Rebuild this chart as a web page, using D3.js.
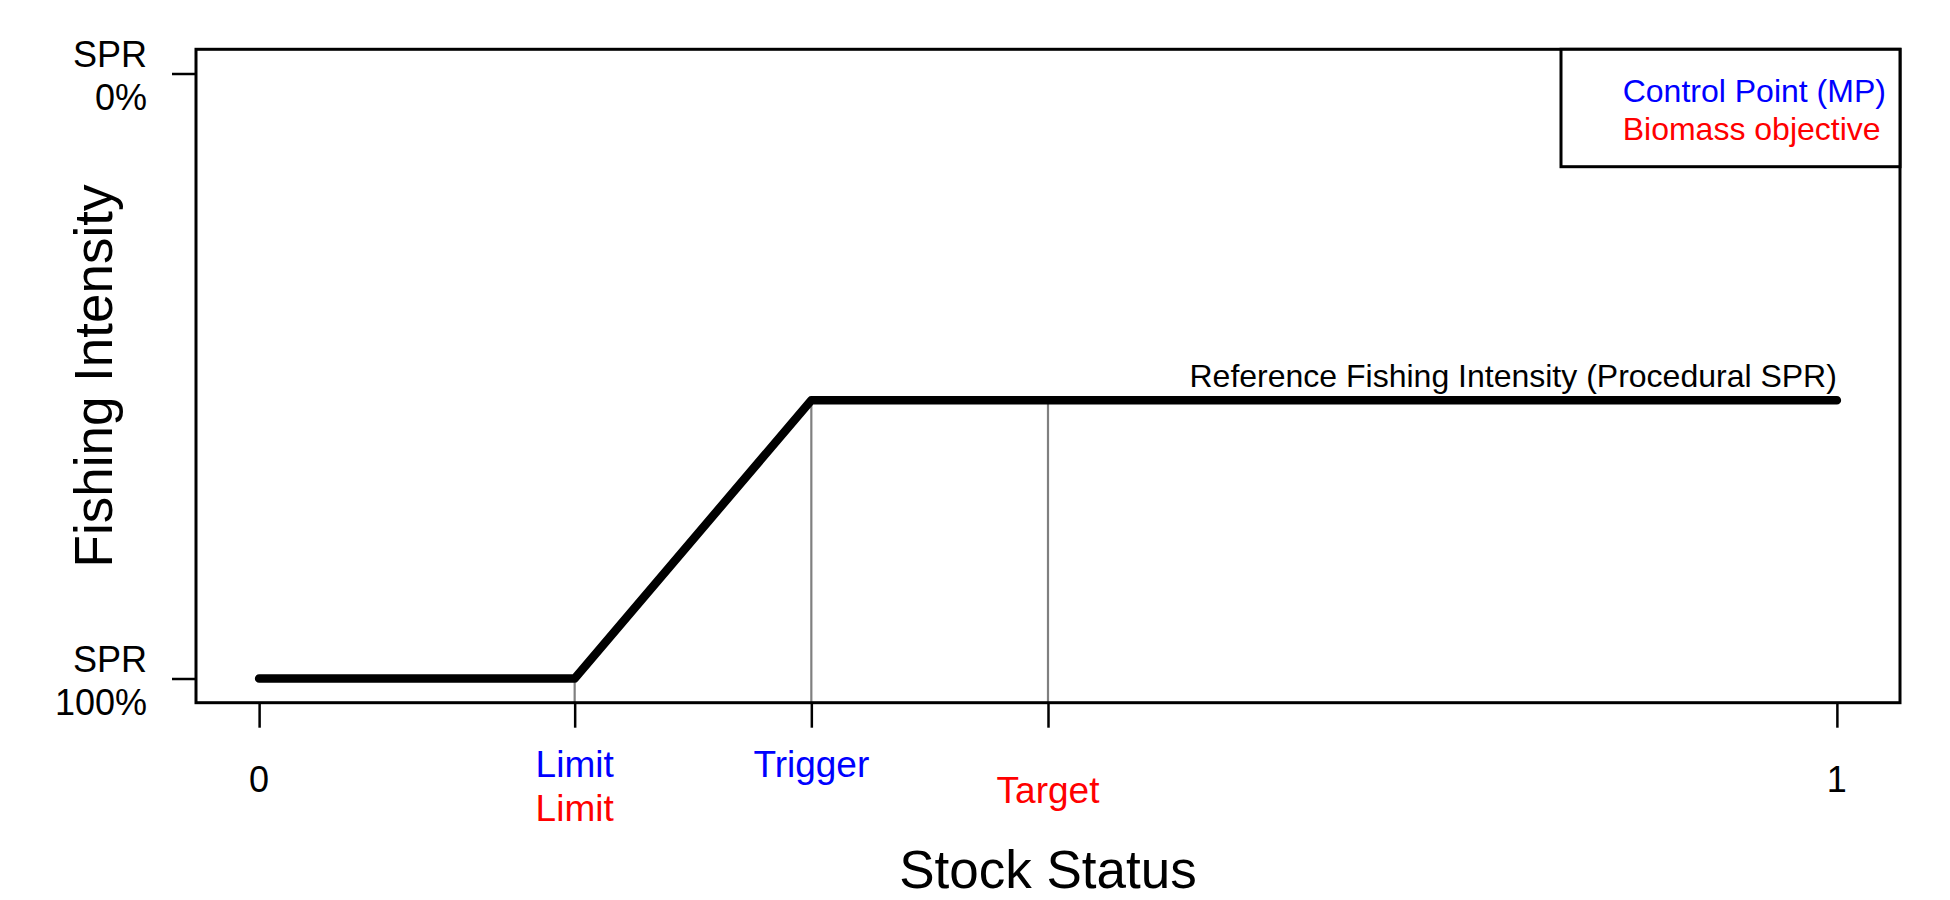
<!DOCTYPE html>
<html>
<head>
<meta charset="utf-8">
<script src="https://cdn.jsdelivr.net/npm/d3@7"></script>
<style>
  html, body { margin: 0; padding: 0; background: #fff; }
  svg { display: block; font-family: "Liberation Sans", Arial, sans-serif; }
</style>
</head>
<body>
<svg id="chart" width="1950" height="900"></svg>
<script>
// ---- data ----
const hcrStatus = [0, 0.2, 0.35, 1];          // stock status
const hcrIntensity = [0, 0, 0.46, 0.46];       // fishing intensity (0 = SPR 100%, 1 = SPR 0%)
const refStatus = [0.2, 0.35, 0.5];            // Limit, Trigger, Target
const xTickValues = [0, 0.2, 0.35, 0.5, 1];
const xPlainLabels = [{x: 0, text: "0"}, {x: 1, text: "1"}];
const xControlLabels = [{x: 0.2, text: "Limit"}, {x: 0.35, text: "Trigger"}];  // blue
const xObjectiveLabels = [{x: 0.2, text: "Limit"}, {x: 0.5, text: "Target"}];   // red
const yTickValues = [0, 1];
const yTickLabels = [["SPR", "100%"], ["SPR", "0%"]];
const legendLabels = ["Control Point (MP)", "Biomass objective"];
const legendColors = ["#0000FF", "#FF0000"];
const refLineLabel = "Reference Fishing Intensity (Procedural SPR)";

(function () {
// ---- layout ----
const svg = d3.select("#chart");
const pL = 196, pR = 1900, pT = 49.3, pB = 702.7;
const x = d3.scaleLinear().domain([-0.04, 1.04]).range([pL, pR]);
const y = d3.scaleLinear().domain([-0.04, 1.04]).range([pB, pT]);
const interp = (s) => {
  for (let i = 1; i < hcrStatus.length; i++) {
    if (s <= hcrStatus[i]) {
      const t = (s - hcrStatus[i - 1]) / (hcrStatus[i] - hcrStatus[i - 1]);
      return hcrIntensity[i - 1] + t * (hcrIntensity[i] - hcrIntensity[i - 1]);
    }
  }
  return hcrIntensity[hcrIntensity.length - 1];
};

// gray reference verticals
svg.append("g").selectAll("line").data(refStatus).join("line")
  .attr("x1", d => x(d)).attr("x2", d => x(d))
  .attr("y1", d => y(interp(d))).attr("y2", y(-0.04))
  .attr("stroke", "#808080").attr("stroke-width", 2.2);

// harvest control rule line
const line = d3.line().x((d, i) => x(hcrStatus[i])).y(d => y(d));
svg.append("path").datum(hcrIntensity)
  .attr("d", line).attr("fill", "none").attr("stroke", "#000")
  .attr("stroke-width", 8.5).attr("stroke-linecap", "round").attr("stroke-linejoin", "round");

// reference label
svg.append("text").attr("x", x(1)).attr("y", y(hcrIntensity[3]) - 13.5)
  .attr("text-anchor", "end").attr("font-size", 32).text(refLineLabel);

// box
svg.append("rect").attr("x", pL).attr("y", pT)
  .attr("width", pR - pL).attr("height", pB - pT)
  .attr("fill", "none").attr("stroke", "#000").attr("stroke-width", 3);

// x axis ticks
const xAxis = d3.axisBottom(x).tickValues(xTickValues).tickFormat("").tickSize(25).tickSizeOuter(0);
const gx = svg.append("g").attr("transform", `translate(0,${pB})`).call(xAxis);
gx.select(".domain").remove();
gx.selectAll(".tick line").attr("stroke", "#000").attr("stroke-width", 2.5);

svg.append("g").selectAll("text").data(xPlainLabels).join("text")
  .attr("x", d => x(d.x)).attr("y", 791.5).attr("text-anchor", "middle")
  .attr("font-size", 36).attr("fill", "#000").text(d => d.text);
svg.append("g").selectAll("text").data(xControlLabels).join("text")
  .attr("x", d => x(d.x)).attr("y", 776.7).attr("text-anchor", "middle")
  .attr("font-size", 37).attr("fill", "#0000FF").text(d => d.text);
svg.append("g").selectAll("text").data(xObjectiveLabels).join("text")
  .attr("x", d => x(d.x)).attr("y", d => d.x === 0.2 ? 820.7 : 802.7).attr("text-anchor", "middle")
  .attr("font-size", 37).attr("fill", "#FF0000").text(d => d.text);

// y axis ticks
const yAxis = d3.axisLeft(y).tickValues(yTickValues).tickFormat("").tickSize(24).tickSizeOuter(0);
const gy = svg.append("g").attr("transform", `translate(${pL},0)`).call(yAxis);
gy.select(".domain").remove();
gy.selectAll(".tick line").attr("stroke", "#000").attr("stroke-width", 2.5);

const yl = svg.append("g").selectAll("text").data(yTickValues).join("text")
  .attr("text-anchor", "end").attr("font-size", 36).attr("fill", "#000");
yl.append("tspan").attr("x", 147).attr("y", d => y(d) - 6.7).text((d, i) => yTickLabels[i][0]);
yl.append("tspan").attr("x", 147).attr("y", d => y(d) + 36).text((d, i) => yTickLabels[i][1]);

// axis titles
svg.append("text").attr("x", (pL + pR) / 2).attr("y", 888)
  .attr("text-anchor", "middle").attr("font-size", 53).text("Stock Status");
svg.append("text").attr("transform", `translate(112,${(pT + pB) / 2}) rotate(-90)`)
  .attr("text-anchor", "middle").attr("font-size", 53).text("Fishing Intensity");

// legend
svg.append("rect").attr("x", 1561).attr("y", pT).attr("width", pR - 1561).attr("height", 166.7 - pT)
  .attr("fill", "#fff").attr("stroke", "#000").attr("stroke-width", 3);
svg.append("g").selectAll("text").data(legendLabels).join("text")
  .attr("x", 1622.7).attr("y", (d, i) => 101.7 + i * 38.3)
  .attr("font-size", 32).attr("fill", (d, i) => legendColors[i]).text(d => d);
})();
</script>
</body>
</html>
